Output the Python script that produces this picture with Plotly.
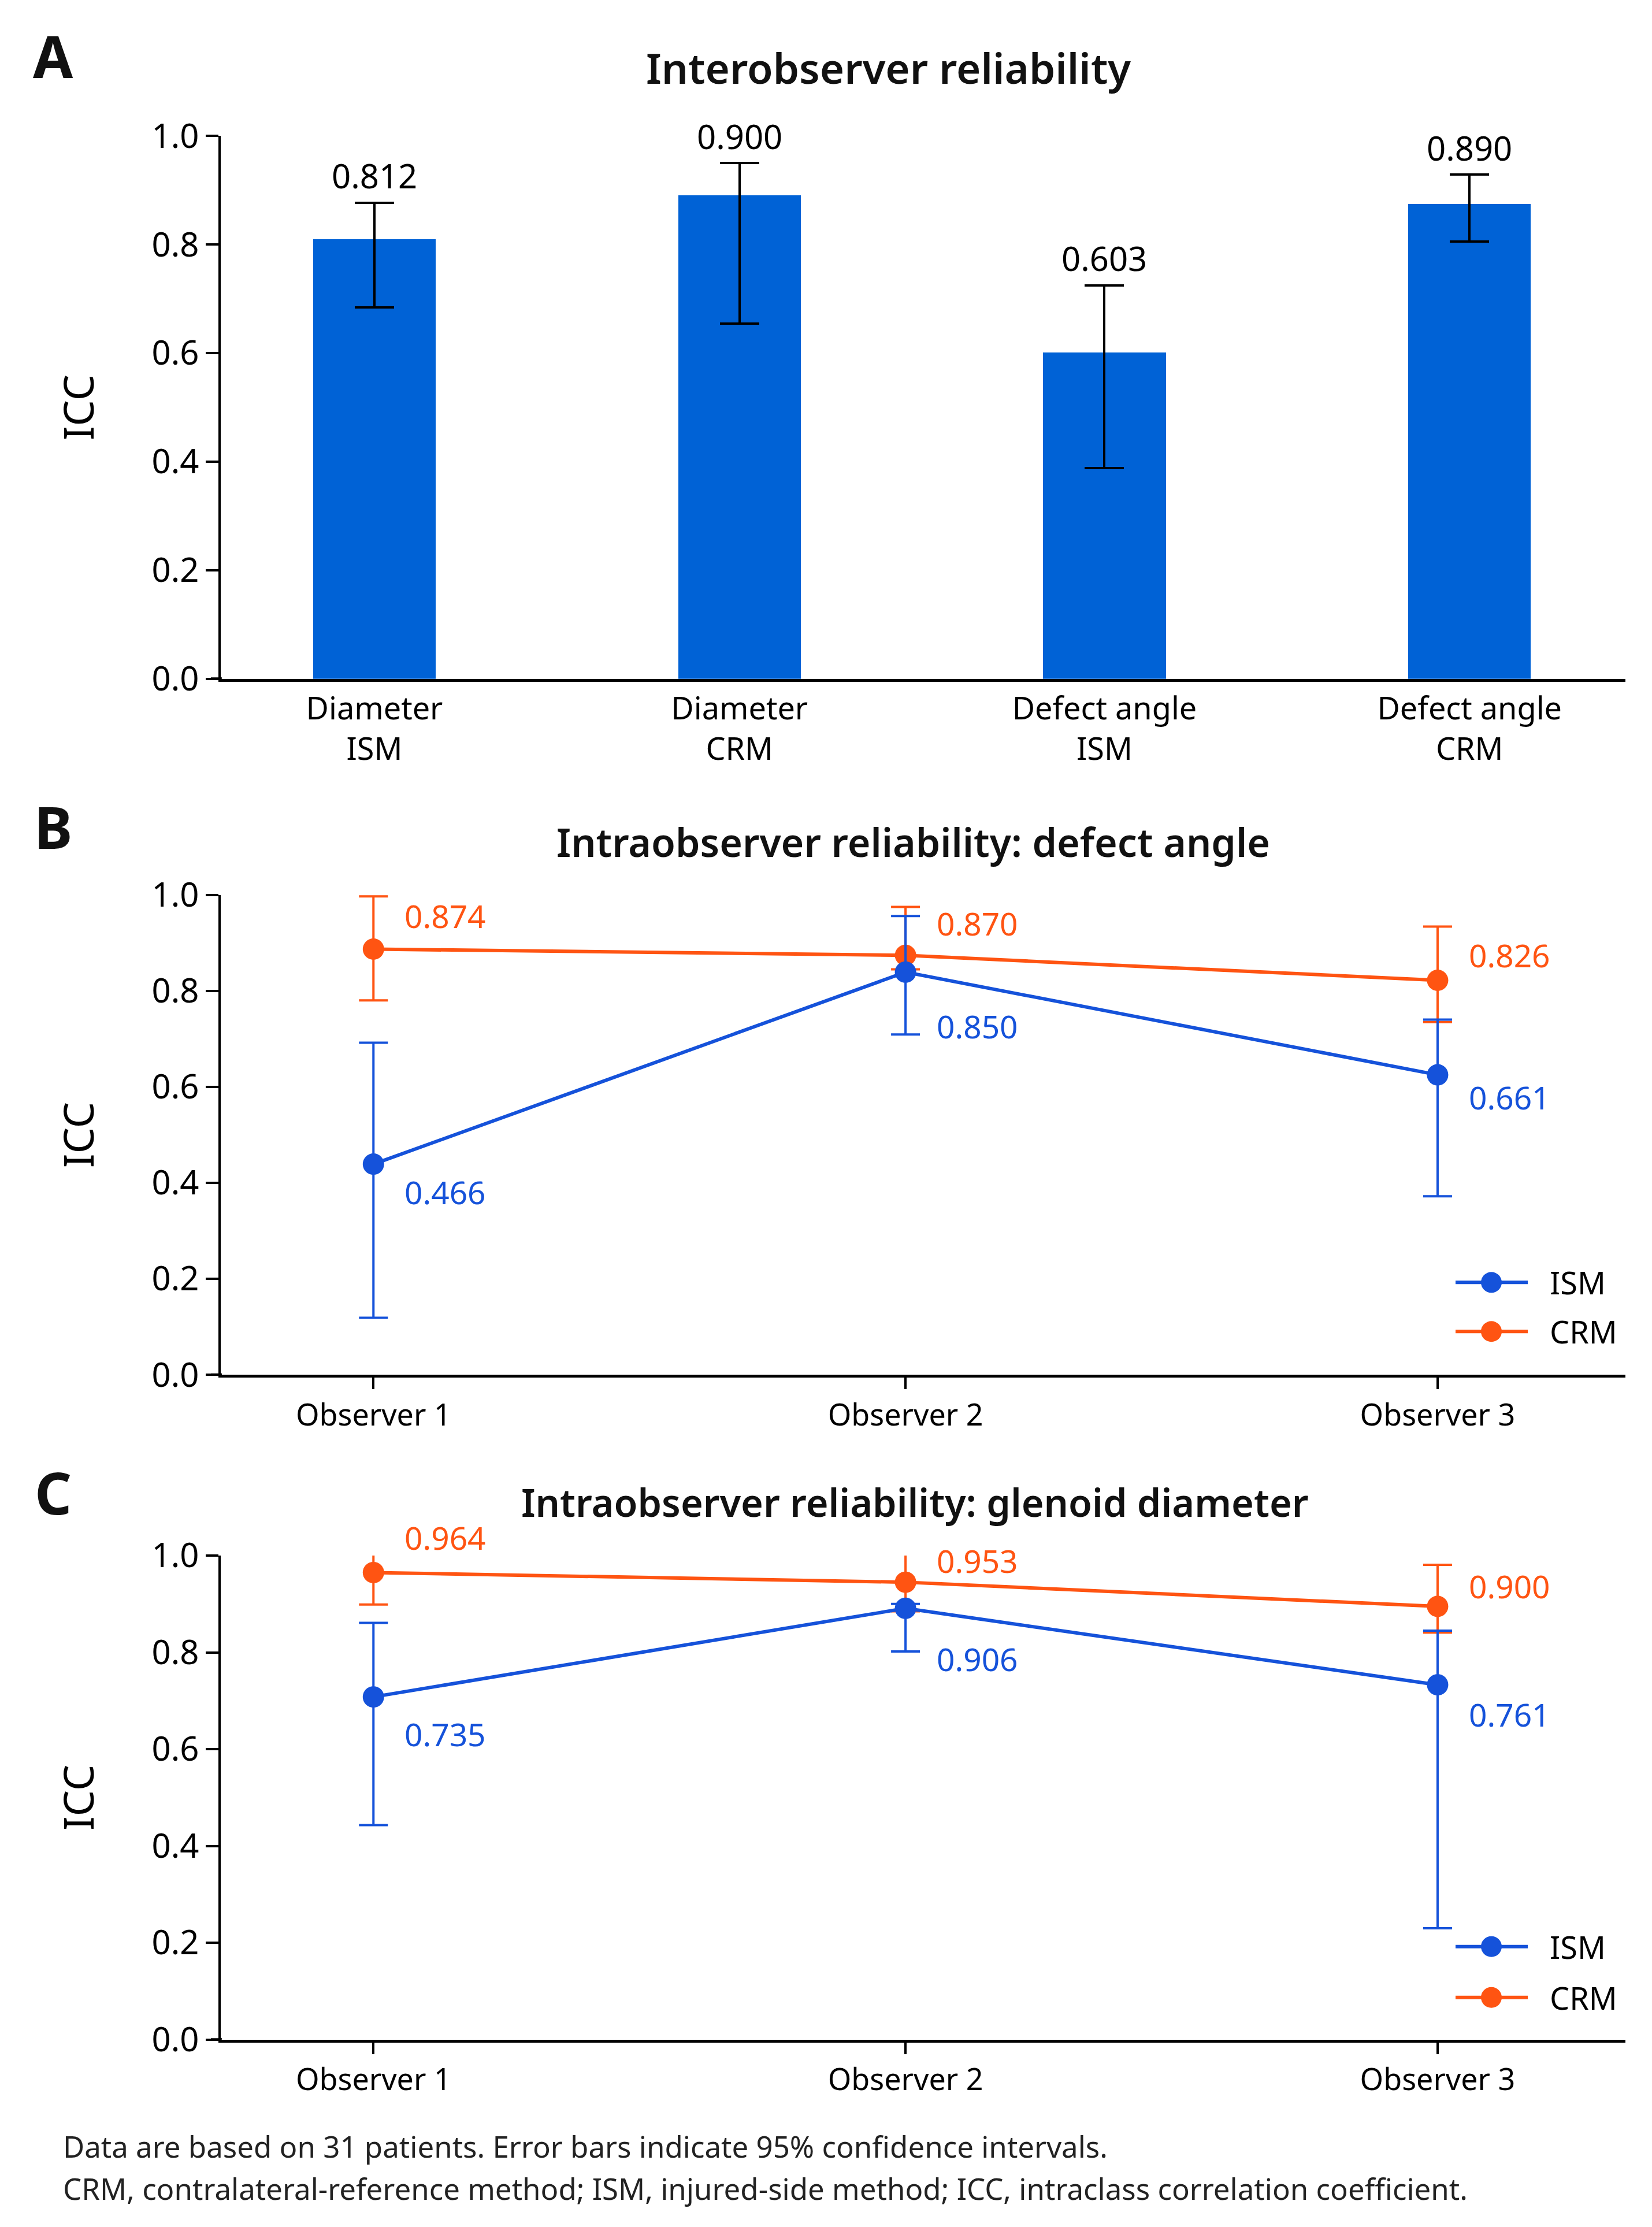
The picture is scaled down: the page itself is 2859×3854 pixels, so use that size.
import plotly.graph_objects as go

W, H = 2859, 3854
FONT = 'Noto Sans'
BAR_BLUE = '#0062D6'
ISM_BLUE = '#1552DA'
CRM_ORANGE = '#FF5412'

##############################################################################
# Panel A: interobserver ICC, one bar per measurement
bar_categories = ['Diameter<br>ISM', 'Diameter<br>CRM',
                  'Defect angle<br>ISM', 'Defect angle<br>CRM']
bar_icc = [0.809, 0.890, 0.601, 0.874]
bar_ci_low = [0.684, 0.654, 0.388, 0.806]
bar_ci_high = [0.877, 0.950, 0.725, 0.929]
bar_labels = ['0.812', '0.900', '0.603', '0.890']

observers = ['Observer 1', 'Observer 2', 'Observer 3']

# Panel B: intraobserver ICC, defect angle
angle_ism = [0.439, 0.839, 0.625]
angle_ism_low = [0.119, 0.709, 0.372]
angle_ism_high = [0.692, 0.956, 0.740]
angle_ism_labels = ['0.466', '0.850', '0.661']
angle_crm = [0.887, 0.874, 0.822]
angle_crm_low = [0.780, 0.845, 0.735]
angle_crm_high = [0.997, 0.975, 0.934]
angle_crm_labels = ['0.874', '0.870', '0.826']

# Panel C: intraobserver ICC, glenoid diameter
diam_ism = [0.708, 0.891, 0.733]
diam_ism_low = [0.443, 0.802, 0.230]
diam_ism_high = [0.861, 0.900, 0.845]
diam_ism_labels = ['0.735', '0.906', '0.761']
diam_crm = [0.965, 0.945, 0.895]
diam_crm_low = [0.899, 0.885, 0.841]
diam_crm_high = [1.033, 1.021, 0.981]
diam_crm_labels = ['0.964', '0.953', '0.900']

# vertical offsets (px) of the value labels next to the points
angle_ism_dy = [-48, -93, -38]
angle_crm_dy = [58, 56, 44]
diam_ism_dy = [-64, -87, -51]
diam_crm_dy = [61, 38, 36]

# the photographed page comes out a little squeezed vertically, so the
# wanted pixel rows are mapped back before use
Y_OFF, Y_SCALE = 46.6, 0.98


def px(x):
    return x / W


def py(y):
    return 1 - (y - Y_OFF) / Y_SCALE / H


def err(vals, low, high):
    return dict(type='data', symmetric=False,
                array=[h - v for v, h in zip(vals, high)],
                arrayminus=[v - lo for v, lo in zip(vals, low)])


fig = go.Figure()

##############################################################################
# Bars
e = err(bar_icc, bar_ci_low, bar_ci_high)
e.update(color='black', thickness=4, width=34)
fig.add_trace(go.Bar(x=list(range(len(bar_icc))), y=bar_icc, width=0.336,
                     marker=dict(color=BAR_BLUE, line=dict(width=0)),
                     error_y=e, xaxis='x', yaxis='y', showlegend=False))
for i, (hi, lab) in enumerate(zip(bar_ci_high, bar_labels)):
    fig.add_annotation(x=i, y=hi, xref='x', yref='y', text=lab,
                       showarrow=False, yanchor='middle', yshift=47,
                       font=dict(family=FONT, size=58, color='black'))

##############################################################################
# Line panels (CRM first so ISM sits on top)
panels = [
    ('x2', 'y2', angle_ism, angle_ism_low, angle_ism_high, angle_ism_labels,
     angle_ism_dy, angle_crm, angle_crm_low, angle_crm_high, angle_crm_labels,
     angle_crm_dy),
    ('x3', 'y3', diam_ism, diam_ism_low, diam_ism_high, diam_ism_labels,
     diam_ism_dy, diam_crm, diam_crm_low, diam_crm_high, diam_crm_labels,
     diam_crm_dy),
]
for (xa, ya, ism, ism_lo, ism_hi, ism_lab, ism_dy,
     crm, crm_lo, crm_hi, crm_lab, crm_dy) in panels:
    for vals, lo, hi, labs, dys, col in [(crm, crm_lo, crm_hi, crm_lab, crm_dy, CRM_ORANGE),
                                         (ism, ism_lo, ism_hi, ism_lab, ism_dy, ISM_BLUE)]:
        e = err(vals, lo, hi)
        e.update(color=col, thickness=4, width=25)
        fig.add_trace(go.Scatter(x=list(range(len(vals))), y=vals,
                                 mode='lines+markers',
                                 line=dict(color=col, width=6),
                                 marker=dict(color=col, size=37),
                                 error_y=e, cliponaxis=False,
                                 xaxis=xa, yaxis=ya, showlegend=False))
        for i, (v, lab, dy) in enumerate(zip(vals, labs, dys)):
            fig.add_annotation(x=i, y=v, xref=xa, yref=ya, text=lab,
                               showarrow=False, xanchor='left', xshift=52,
                               yanchor='middle', yshift=dy,
                               font=dict(family=FONT, size=55, color=col))

##############################################################################
# Axes
yax = dict(range=[0, 1], tickvals=[0, 0.2, 0.4, 0.6, 0.8, 1.0],
           tickformat='.1f', ticks='outside', ticklen=22, tickwidth=4,
           tickcolor='black', showline=True, linewidth=4, linecolor='black',
           showgrid=False, zeroline=False,
           tickfont=dict(family=FONT, size=58, color='black'))
xdom = [px(374), px(2805)]
obs_axis = dict(range=[-0.287, 2.353], tickvals=list(range(3)),
                ticktext=observers, ticks='outside', ticklen=20, tickwidth=4,
                tickcolor='black', showline=True, linewidth=5,
                linecolor='black', showgrid=False, zeroline=False,
                tickfont=dict(family=FONT, size=52, color='black'))

fig.update_layout(
    width=W, height=H,
    margin=dict(l=0, r=0, t=0, b=0),
    paper_bgcolor='white', plot_bgcolor='white',
    bargap=0,
    xaxis=dict(domain=xdom, anchor='y', range=[-0.421, 3.427],
               tickvals=list(range(4)), ticktext=bar_categories, ticks='',
               showline=True, linewidth=5, linecolor='black', showgrid=False,
               zeroline=False,
               tickfont=dict(family=FONT, size=54, color='black')),
    yaxis=dict(domain=[py(1172), py(232)], anchor='x', **yax),
    xaxis2=dict(domain=xdom, anchor='y2', **obs_axis),
    yaxis2=dict(domain=[py(2377), py(1546)], anchor='x2', **yax),
    xaxis3=dict(domain=xdom, anchor='y3', **obs_axis),
    yaxis3=dict(domain=[py(3528), py(2690)], anchor='x3', **yax),
)

# the baseline pokes out a little to the left of the y axis
for ya in ['y', 'y2', 'y3']:
    fig.add_shape(type='line', xref='paper', yref=ya, x0=px(357), x1=px(376),
                  y0=0, y1=0, line=dict(color='black', width=5))

##############################################################################
# Titles, panel letters, axis titles
titles = [('Interobserver reliability', 1529, 113, 72.5),
          ('Intraobserver reliability: defect angle', 1572, 1454, 68),
          ('Intraobserver reliability: glenoid diameter', 1575, 2597, 66.5)]
for txt, x, y, size in titles:
    fig.add_annotation(x=px(x), y=py(y), xref='paper', yref='paper', text=txt,
                       showarrow=False, xanchor='center', yanchor='middle',
                       font=dict(family=FONT, size=size, color='#111111',
                                 weight=600))

for txt, y in [('A', 93), ('B', 1427), ('C', 2580)]:
    fig.add_annotation(x=px(84), y=py(y), xref='paper', yref='paper', text=txt,
                       showarrow=False, xanchor='center', yanchor='middle',
                       font=dict(family=FONT, size=100, color='#111111',
                                 weight='bold'))

for y0, y1 in [(232, 1172), (1546, 2377), (2690, 3528)]:
    fig.add_annotation(x=px(126), y=py((y0 + y1) / 2), xref='paper',
                       yref='paper', text='ICC', textangle=-90,
                       showarrow=False, xanchor='center', yanchor='middle',
                       font=dict(family=FONT, size=72, color='black'))

##############################################################################
# Hand-made legends (long line samples like the original)
for ys in [(2217, 2302), (3367, 3455)]:
    for (name, col), y in zip([('ISM', ISM_BLUE), ('CRM', CRM_ORANGE)], ys):
        fig.add_shape(type='line', xref='paper', yref='paper',
                      x0=px(2511), x1=px(2636), y0=py(y), y1=py(y),
                      line=dict(color=col, width=6))
        fig.add_shape(type='circle', xref='paper', yref='paper',
                      x0=px(2573 - 18), x1=px(2573 + 18),
                      y0=py(y + 18), y1=py(y - 18),
                      fillcolor=col, line=dict(width=0))
        fig.add_annotation(x=px(2672), y=py(y), xref='paper', yref='paper',
                           text=name, showarrow=False, xanchor='left',
                           yanchor='middle',
                           font=dict(family=FONT, size=54, color='black'))

##############################################################################
# Footnote
notes = ['Data are based on 31 patients. Error bars indicate 95% confidence intervals.',
         'CRM, contralateral-reference method; ISM, injured-side method; ICC, intraclass correlation coefficient.']
for txt, y in zip(notes, [3712, 3786]):
    fig.add_annotation(x=px(99), y=py(y), xref='paper', yref='paper',
                       text=txt, showarrow=False, xanchor='left',
                       yanchor='middle',
                       font=dict(family=FONT, size=51, color='#222222'))

fig.write_html('out.html')
